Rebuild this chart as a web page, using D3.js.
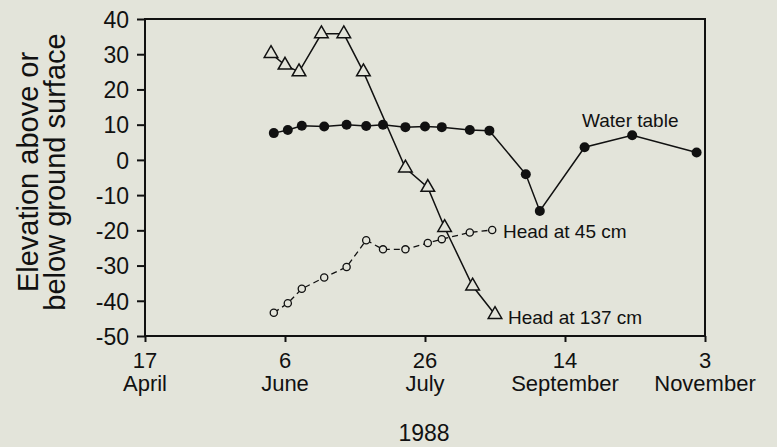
<!DOCTYPE html>
<html><head><meta charset="utf-8">
<script src="https://cdn.jsdelivr.net/npm/d3@7"></script>
<style>
body{margin:0;background:#e3e4da;}
svg{display:block;font-family:"Liberation Sans",Arial,Helvetica,sans-serif;}
</style></head><body>
<svg id="c" width="777" height="447"></svg>
<script>
// Data (dates in 1988)
const waterDates = ["1988-06-02","1988-06-07","1988-06-12","1988-06-20","1988-06-28","1988-07-05","1988-07-11","1988-07-19","1988-07-26","1988-08-01","1988-08-11","1988-08-18","1988-08-31","1988-09-05","1988-09-21","1988-10-08","1988-10-31"];
const waterValues = [7.6,8.5,9.7,9.5,10.0,9.6,10.0,9.3,9.5,9.3,8.5,8.3,-4.1,-14.5,3.6,7.0,2.1];

const head137Dates = ["1988-06-01","1988-06-06","1988-06-11","1988-06-19","1988-06-27","1988-07-04","1988-07-19","1988-07-27","1988-08-02","1988-08-12","1988-08-20"];
const head137Values = [30.2,26.9,25.0,35.8,35.8,25.0,-2.3,-7.8,-19.2,-35.8,-43.9];

const head45Dates = ["1988-06-02","1988-06-07","1988-06-12","1988-06-20","1988-06-28","1988-07-05","1988-07-11","1988-07-19","1988-07-27","1988-08-01","1988-08-11","1988-08-19"];
const head45Values = [-43.4,-40.7,-36.6,-33.4,-30.4,-22.8,-25.4,-25.4,-23.6,-22.5,-20.6,-19.9];

const xTickDates = ["1988-04-17","1988-06-06","1988-07-26","1988-09-14","1988-11-03"];
const xTickDays = ["17","6","26","14","3"];
const xTickMonths = ["April","June","July","September","November"];
const yTicks = [40,30,20,10,0,-10,-20,-30,-40,-50];

const parse = d3.utcParse("%Y-%m-%d");
const svg = d3.select("#c");
const L=145, R=705, T=19, B=336;
const INK="#111", BG="#e3e4da";

const x = d3.scaleUtc().domain([parse(xTickDates[0]), parse(xTickDates[4])]).range([L,R]);
const y = d3.scaleLinear().domain([-50,40]).range([B,T]);

// frame
svg.append("rect").attr("x",L).attr("y",T).attr("width",R-L).attr("height",B-T)
  .attr("fill","none").attr("stroke",INK).attr("stroke-width",2);

// y axis
const ya = svg.append("g").attr("transform",`translate(${L},0)`)
  .call(d3.axisLeft(y).tickValues(yTicks).tickSize(8).tickPadding(8).tickFormat(d=>String(d)));
ya.select(".domain").remove();
ya.selectAll("line").attr("stroke",INK).attr("stroke-width",2);
ya.selectAll("text").attr("font-size",23).attr("fill",INK).attr("font-family","inherit").attr("dy","0.36em");

// x axis
const xa = svg.append("g").attr("transform",`translate(0,${B})`)
  .call(d3.axisBottom(x).tickValues(xTickDates.map(parse)).tickSize(6).tickFormat(""));
xa.select(".domain").remove();
xa.selectAll("line").attr("stroke",INK).attr("stroke-width",2);
const xl = svg.append("g");
xTickDates.forEach((d,i)=>{
  const t = xl.append("text").attr("text-anchor","middle").attr("font-size",22).attr("fill",INK);
  t.append("tspan").attr("x",x(parse(d))).attr("y",B+32).text(xTickDays[i]);
  t.append("tspan").attr("x",x(parse(d))).attr("y",B+55).text(xTickMonths[i]);
});

svg.append("text").attr("x",424).attr("y",441).attr("text-anchor","middle")
  .attr("font-size",23).attr("fill",INK).text("1988");

// y title
const yt = svg.append("text").attr("transform","translate(0,172) rotate(-90)")
  .attr("text-anchor","middle").attr("font-size",29).attr("fill",INK);
yt.append("tspan").attr("x",0).attr("y",38).text("Elevation above or");
yt.append("tspan").attr("x",0).attr("y",65).text("below ground surface");

const line = d3.line().x(d=>x(d[0])).y(d=>y(d[1]));
const zip = (ds,vs)=>ds.map((d,i)=>[parse(d),vs[i]]);

const w = zip(waterDates,waterValues);
const h137 = zip(head137Dates,head137Values);
const h45 = zip(head45Dates,head45Values);

svg.append("path").datum(h45).attr("d",line).attr("fill","none").attr("stroke",INK)
  .attr("stroke-width",1.3).attr("stroke-dasharray","6,4");
svg.append("path").datum(h137).attr("d",line).attr("fill","none").attr("stroke",INK).attr("stroke-width",1.5);
svg.append("path").datum(w).attr("d",line).attr("fill","none").attr("stroke",INK).attr("stroke-width",1.5);

svg.append("g").selectAll("circle").data(h45).join("circle")
  .attr("cx",d=>x(d[0])).attr("cy",d=>y(d[1])).attr("r",3.6)
  .attr("fill",BG).attr("stroke",INK).attr("stroke-width",1.3);
svg.append("g").selectAll("path").data(h137).join("path")
  .attr("transform",d=>`translate(${x(d[0])},${y(d[1])})`)
  .attr("d",d3.symbol(d3.symbolTriangle,80))
  .attr("fill",BG).attr("stroke",INK).attr("stroke-width",1.5);
svg.append("g").selectAll("circle").data(w).join("circle")
  .attr("cx",d=>x(d[0])).attr("cy",d=>y(d[1])).attr("r",5)
  .attr("fill",INK);

// labels
svg.append("text").attr("x",582).attr("y",127).attr("font-size",19).attr("fill",INK).text("Water table");
svg.append("text").attr("x",503).attr("y",238).attr("font-size",19).attr("fill",INK).text("Head at 45 cm");
svg.append("text").attr("x",508).attr("y",324).attr("font-size",19).attr("fill",INK).text("Head at 137 cm");
</script>
</body></html>
